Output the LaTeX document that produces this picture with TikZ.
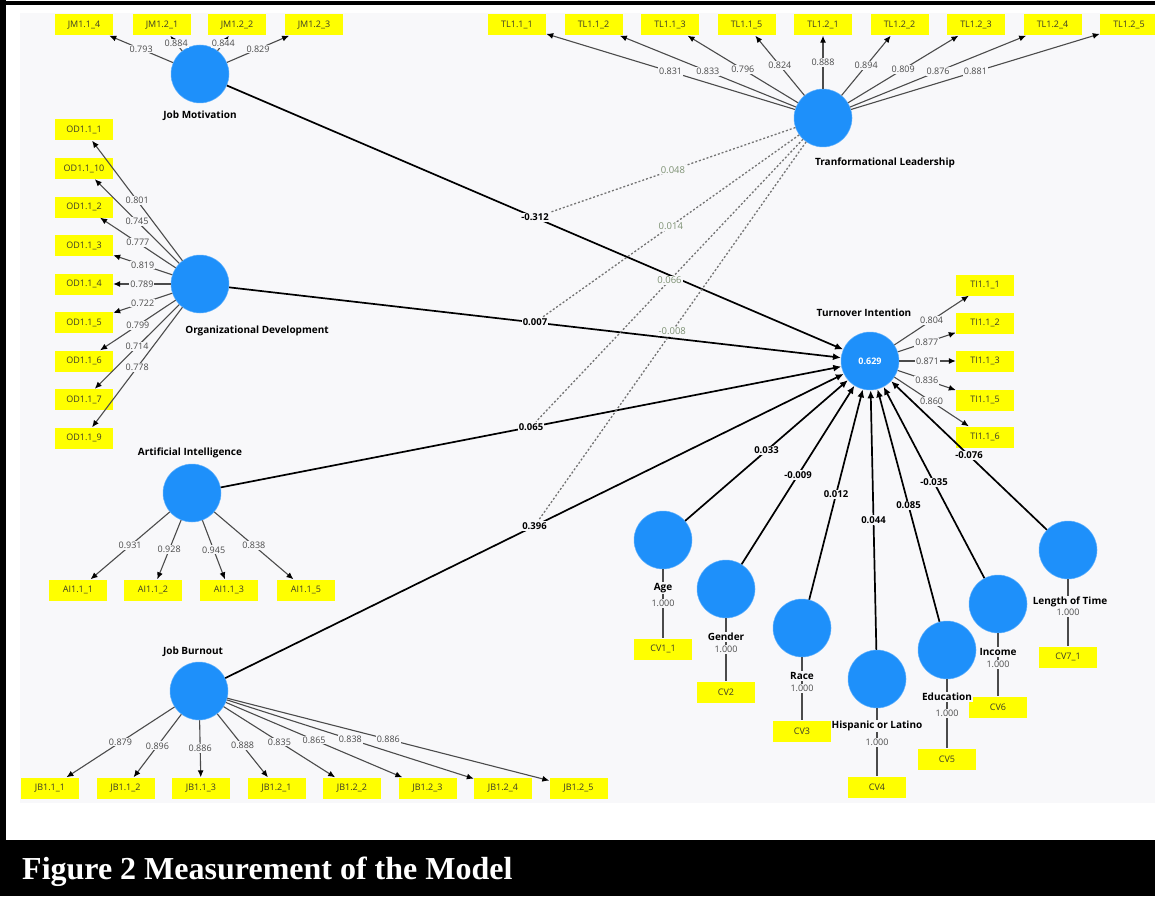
\documentclass[tikz,border=0pt]{standalone}
\usepackage{fontspec}
\setmainfont{Liberation Serif}
\newfontfamily\plsfont{Open Sans}
\usetikzlibrary{arrows.meta}

\definecolor{plsblue}{RGB}{30,144,250}
\definecolor{plsyellow}{RGB}{255,255,0}
\definecolor{panel}{RGB}{248,248,250}
\definecolor{indtext}{RGB}{60,60,40}
\definecolor{ldgrey}{RGB}{75,75,75}
\definecolor{modgrey}{RGB}{115,115,115}
\definecolor{modtext}{RGB}{125,145,115}

\begin{document}
\begin{tikzpicture}[x=1pt,y=-1pt,
  lv/.style={circle, fill=plsblue, draw=plsblue!70!white, line width=0.5pt, minimum size=58pt, inner sep=0pt},
  ind/.style={rectangle, fill=plsyellow, minimum width=58pt, minimum height=21pt, inner sep=0pt, text=indtext, font=\plsfont\fontsize{9}{10}\selectfont},
  lvname/.style={fill=panel, inner sep=1pt, font=\plsfont\bfseries\fontsize{10}{12}\selectfont},
  ld/.style={draw=ldgrey, line width=1.1pt, -{Latex[length=7pt,width=6pt,color=black]}},
  cvline/.style={draw=ldgrey, line width=1.1pt},
  pth/.style={line width=1.7pt, -{Latex[length=8pt,width=7pt]}},
  mod/.style={draw=modgrey, line width=1.3pt, dash pattern=on 2pt off 2pt},
  lo/.style={fill=panel, inner sep=1pt, text=ldgrey, font=\plsfont\fontsize{9}{10}\selectfont},
  coef/.style={fill=panel, inner sep=1pt, font=\plsfont\bfseries\fontsize{9.5}{10}\selectfont},
  mcoef/.style={fill=panel, inner sep=1pt, text=modtext, font=\plsfont\fontsize{9.5}{10}\selectfont}]
  % frame and caption bar
  \fill[white] (0,0) rectangle (1155,896);
  \fill[panel] (20,13) rectangle (1155,803);
  \fill[black] (0,1) rectangle (1155,5);
  \fill[black] (0,0) rectangle (6,840);
  \fill[black] (0,840) rectangle (1155,896);
  \node[anchor=base west, inner sep=0pt, text=white, font=\bfseries\fontsize{32}{36}\selectfont] (cap) at (22,879) {Figure 2 Measurement of the Model};
  \useasboundingbox (0,0) rectangle (1155,896);

  % latent variables
  \node[lv] (jm) at (200,74) {};
  \node[lv] (tl) at (823,118) {};
  \node[lv] (od) at (200,284) {};
  \node[lv] (ai) at (192,493) {};
  \node[lv] (jb) at (199,691) {};
  \node[lv, text=white, font=\plsfont\bfseries\fontsize{9}{10}\selectfont] (ti) at (870,361) {0.629};
  \node[lv] (age) at (663,540) {};
  \node[lv] (gen) at (726,589) {};
  \node[lv] (race) at (802,628) {};
  \node[lv] (hisp) at (877,679) {};
  \node[lv] (edu) at (947,650) {};
  \node[lv] (inc) at (998,604) {};
  \node[lv] (lot) at (1068,550) {};

  % indicators
  \node[ind] (jm1) at (84,25) {JM1.1\_4};
  \node[ind] (jm2) at (162,25) {JM1.2\_1};
  \node[ind] (jm3) at (237,25) {JM1.2\_2};
  \node[ind] (jm4) at (314,25) {JM1.2\_3};

  \node[ind] (tl1) at (517,25) {TL1.1\_1};
  \node[ind] (tl2) at (593.5,25) {TL1.1\_2};
  \node[ind] (tl3) at (670,25) {TL1.1\_3};
  \node[ind] (tl4) at (746.5,25) {TL1.1\_5};
  \node[ind] (tl5) at (823,25) {TL1.2\_1};
  \node[ind] (tl6) at (899.5,25) {TL1.2\_2};
  \node[ind] (tl7) at (976,25) {TL1.2\_3};
  \node[ind] (tl8) at (1052.5,25) {TL1.2\_4};
  \node[ind] (tl9) at (1129,25) {TL1.2\_5};

  \node[ind] (od1) at (84,130) {OD1.1\_1};
  \node[ind] (od2) at (84,168.5) {OD1.1\_10};
  \node[ind] (od3) at (84,207) {OD1.1\_2};
  \node[ind] (od4) at (84,245.5) {OD1.1\_3};
  \node[ind] (od5) at (84,284) {OD1.1\_4};
  \node[ind] (od6) at (84,322.5) {OD1.1\_5};
  \node[ind] (od7) at (84,361) {OD1.1\_6};
  \node[ind] (od8) at (84,399.5) {OD1.1\_7};
  \node[ind] (od9) at (84,438) {OD1.1\_9};

  \node[ind] (ai1) at (78,590) {AI1.1\_1};
  \node[ind] (ai2) at (153,590) {AI1.1\_2};
  \node[ind] (ai3) at (229,590) {AI1.1\_3};
  \node[ind] (ai4) at (306,590) {AI1.1\_5};

  \node[ind] (jb1) at (50,788) {JB1.1\_1};
  \node[ind] (jb2) at (125.5,788) {JB1.1\_2};
  \node[ind] (jb3) at (201,788) {JB1.1\_3};
  \node[ind] (jb4) at (276.5,788) {JB1.2\_1};
  \node[ind] (jb5) at (352,788) {JB1.2\_2};
  \node[ind] (jb6) at (427.5,788) {JB1.2\_3};
  \node[ind] (jb7) at (503,788) {JB1.2\_4};
  \node[ind] (jb8) at (578.5,788) {JB1.2\_5};

  \node[ind] (ti1) at (985,285) {TI1.1\_1};
  \node[ind] (ti2) at (985,323) {TI1.1\_2};
  \node[ind] (ti3) at (985,361) {TI1.1\_3};
  \node[ind] (ti4) at (985,400) {TI1.1\_5};
  \node[ind] (ti5) at (985,437) {TI1.1\_6};

  \node[ind] (cv1) at (663,649) {CV1\_1};
  \node[ind] (cv2) at (726,692) {CV2};
  \node[ind] (cv3) at (802,731) {CV3};
  \node[ind] (cv4) at (877,787) {CV4};
  \node[ind] (cv5) at (947,759) {CV5};
  \node[ind] (cv6) at (998,707) {CV6};
  \node[ind] (cv7) at (1068,657) {CV7\_1};

  % outer loadings
  \draw[ld] (jm) -- node[lo,midway]{0.793} (jm1);
  \draw[ld] (jm) -- node[lo,midway]{0.884} (jm2);
  \draw[ld] (jm) -- node[lo,midway]{0.844} (jm3);
  \draw[ld] (jm) -- node[lo,midway]{0.829} (jm4);

  \draw[ld] (tl) -- node[lo,midway]{0.831} (tl1);
  \draw[ld] (tl) -- node[lo,midway]{0.833} (tl2);
  \draw[ld] (tl) -- node[lo,midway]{0.796} (tl3);
  \draw[ld] (tl) -- node[lo,midway]{0.824} (tl4);
  \draw[ld] (tl) -- node[lo,midway]{0.888} (tl5);
  \draw[ld] (tl) -- node[lo,midway]{0.894} (tl6);
  \draw[ld] (tl) -- node[lo,midway]{0.809} (tl7);
  \draw[ld] (tl) -- node[lo,midway]{0.876} (tl8);
  \draw[ld] (tl) -- node[lo,midway]{0.881} (tl9);

  \draw[ld] (od) -- node[lo,midway]{0.801} (od1);
  \draw[ld] (od) -- node[lo,midway]{0.745} (od2);
  \draw[ld] (od) -- node[lo,midway]{0.777} (od3);
  \draw[ld] (od) -- node[lo,midway]{0.819} (od4);
  \draw[ld] (od) -- node[lo,midway]{0.789} (od5);
  \draw[ld] (od) -- node[lo,midway]{0.722} (od6);
  \draw[ld] (od) -- node[lo,midway]{0.799} (od7);
  \draw[ld] (od) -- node[lo,midway]{0.714} (od8);
  \draw[ld] (od) -- node[lo,midway]{0.778} (od9);

  \draw[ld] (ai) -- node[lo,midway]{0.931} (ai1);
  \draw[ld] (ai) -- node[lo,midway]{0.928} (ai2);
  \draw[ld] (ai) -- node[lo,midway]{0.945} (ai3);
  \draw[ld] (ai) -- node[lo,midway]{0.838} (ai4);

  \draw[ld] (jb) -- node[lo,midway]{0.879} (jb1);
  \draw[ld] (jb) -- node[lo,midway]{0.896} (jb2);
  \draw[ld] (jb) -- node[lo,midway]{0.886} (jb3);
  \draw[ld] (jb) -- node[lo,midway]{0.888} (jb4);
  \draw[ld] (jb) -- node[lo,midway]{0.835} (jb5);
  \draw[ld] (jb) -- node[lo,midway]{0.865} (jb6);
  \draw[ld] (jb) -- node[lo,midway]{0.838} (jb7);
  \draw[ld] (jb) -- node[lo,midway]{0.886} (jb8);

  \draw[ld] (ti) -- node[lo,midway]{0.804} (ti1);
  \draw[ld] (ti) -- node[lo,midway]{0.877} (ti2);
  \draw[ld] (ti) -- node[lo,midway]{0.871} (ti3);
  \draw[ld] (ti) -- node[lo,midway]{0.836} (ti4);
  \draw[ld] (ti) -- node[lo,midway]{0.860} (ti5);

  % single item controls
  \draw[cvline] (age) -- node[lo,midway]{1.000} (cv1);
  \draw[cvline] (gen) -- node[lo,midway]{1.000} (cv2);
  \draw[cvline] (race) -- node[lo,midway]{1.000} (cv3);
  \draw[cvline] (hisp) -- node[lo,midway]{1.000} (cv4);
  \draw[cvline] (edu) -- node[lo,midway]{1.000} (cv5);
  \draw[cvline] (inc) -- node[lo,midway]{1.000} (cv6);
  \draw[cvline] (lot) -- node[lo,midway]{1.000} (cv7);

  % path coefficients
  \draw[pth] (jm) -- node[coef,midway] (pjm) {-0.312} (ti);
  \draw[pth] (od) -- node[coef,midway] (pod) {0.007} (ti);
  \draw[pth] (ai) -- node[coef,midway] (pai) {0.065} (ti);
  \draw[pth] (jb) -- node[coef,midway] (pjb) {0.396} (ti);
  \draw[pth] (age) -- node[coef,midway]{0.033} (ti);
  \draw[pth] (gen) -- node[coef,midway]{-0.009} (ti);
  \draw[pth] (race) -- node[coef,midway]{0.012} (ti);
  \draw[pth] (hisp) -- node[coef,midway]{0.044} (ti);
  \draw[pth] (edu) -- node[coef,midway]{0.085} (ti);
  \draw[pth] (inc) -- node[coef,midway]{-0.035} (ti);
  \draw[pth] (lot) -- node[coef,midway]{-0.076} (ti);

  % moderating effects of leadership
  \draw[mod] (tl) -- node[mcoef,midway]{0.048} (pjm);
  \draw[mod] (tl) -- node[mcoef,midway]{0.014} (pod);
  \draw[mod] (tl) -- node[mcoef,midway]{0.066} (pai);
  \draw[mod] (tl) -- node[mcoef,midway]{-0.008} (pjb);

  % construct names
  \node[lvname] (jmn) at (200,116) {Job Motivation};
  \node[lvname] (tln) at (885,163) {Tranformational Leadership};
  \node[lvname] (odn) at (257,331) {Organizational Development};
  \node[lvname] (ain) at (190,453) {Artificial Intelligence};
  \node[lvname] (jbn) at (193,652) {Job Burnout};
  \node[lvname] (tin) at (864,313) {Turnover Intention};
  \node[lvname] (agen) at (663,588) {Age};
  \node[lvname] (genn) at (726,637) {Gender};
  \node[lvname] (racen) at (802,676) {Race};
  \node[lvname] (hispn) at (877,726) {Hispanic or Latino};
  \node[lvname] (edun) at (947,697) {Education};
  \node[lvname] (incn) at (998,652) {Income};
  \node[lvname] (lotn) at (1070,602) {Length of Time};
\end{tikzpicture}
\end{document}
